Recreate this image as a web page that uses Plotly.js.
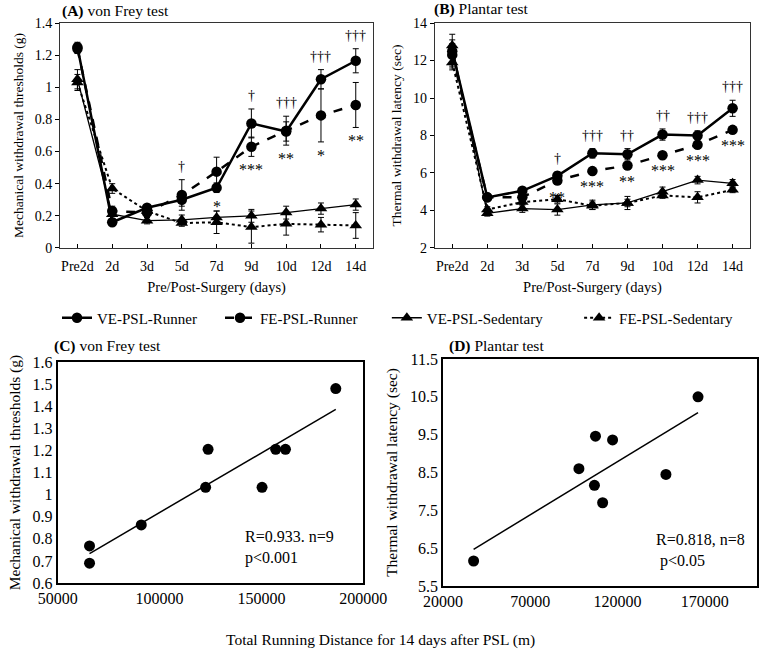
<!DOCTYPE html>
<html>
<head>
<meta charset="utf-8">
<script src="https://cdn.plot.ly/plotly-3.0.1.min.js"></script>
<style>
  body { margin: 0; background: #fff; }
  #plot { width: 760px; height: 650px; }
</style>
</head>
<body>
<div id="plot"></div>
<script>
// time points
const days = ['Pre2d', '2d', '3d', '5d', '7d', '9d', '10d', '12d', '14d'];

// (A) von Frey test, mean and error
const veRunA = [1.25, 0.16, 0.25, 0.30, 0.375, 0.775, 0.725, 1.05, 1.165];
const veRunAErr = [0.03, 0.02, 0.02, 0.04, 0.03, 0.09, 0.06, 0.06, 0.075];
const feRunA = [1.24, 0.23, 0.22, 0.33, 0.475, 0.63, 0.73, 0.825, 0.89];
const feRunAErr = [0.03, 0.03, 0.03, 0.095, 0.09, 0.06, 0.09, 0.165, 0.14];
const veSedA = [1.05, 0.21, 0.17, 0.175, 0.19, 0.20, 0.22, 0.245, 0.27];
const veSedAErr = [0.06, 0.03, 0.02, 0.03, 0.04, 0.04, 0.04, 0.035, 0.035];
const feSedA = [1.03, 0.37, 0.23, 0.155, 0.16, 0.13, 0.15, 0.145, 0.14];
const feSedAErr = [0.05, 0.03, 0.03, 0.02, 0.07, 0.10, 0.07, 0.045, 0.08];
const daggerA = ['', '', '', '†', '', '†', '†††', '†††', '†††'];
const starA = ['', '', '', '', '*', '***', '**', '*', '**'];

// (B) Plantar test, mean and error
const veRunB = [12.5, 4.7, 5.05, 5.85, 7.05, 7.0, 8.05, 8.0, 9.45];
const veRunBErr = [0.9, 0.15, 0.1, 0.2, 0.25, 0.3, 0.3, 0.25, 0.43];
const feRunB = [12.3, 4.7, 4.7, 5.6, 6.1, 6.4, 6.95, 7.5, 8.3];
const feRunBErr = [0.6, 0.1, 0.1, 0.2, 0.1, 0.15, 0.1, 0.1, 0.1];
const veSedB = [12.8, 3.85, 4.1, 4.05, 4.3, 4.4, 5.0, 5.62, 5.45];
const veSedBErr = [0.3, 0.15, 0.2, 0.3, 0.25, 0.35, 0.25, 0.2, 0.2];
const feSedB = [11.9, 4.05, 4.45, 4.6, 4.25, 4.4, 4.8, 4.7, 5.1];
const feSedBErr = [0.4, 0.15, 0.15, 0.2, 0.2, 0.2, 0.15, 0.3, 0.15];
const daggerB = ['', '', '', '†', '†††', '††', '††', '†††', '†††'];
const starB = ['', '', '', '**', '***', '**', '***', '***', '***'];

// (C) distance vs von Frey threshold
const distC = [65600, 65600, 91000, 122600, 123800, 150300, 157000, 161800, 186500];
const threshC = [0.768, 0.69, 0.863, 1.033, 1.205, 1.033, 1.205, 1.205, 1.48];

// (D) distance vs plantar latency
const distD = [37500, 97900, 106800, 107400, 111500, 117200, 147800, 166200];
const latencyD = [6.16, 8.6, 8.16, 9.46, 7.7, 9.36, 8.45, 10.5];

const serif = 'Liberation Serif, Times New Roman, serif';

function groupTraces(xa, ya, veRun, veRunErr, feRun, feRunErr, veSed, veSedErr, feSed, feSedErr, legend) {
    const err = e => ({ type: 'data', array: e, color: '#000', thickness: 1, width: 3 });
    return [
        { x: days, y: veRun, error_y: err(veRunErr), name: 'VE-PSL-Runner', xaxis: xa, yaxis: ya,
          mode: 'lines+markers', line: { color: '#000', width: 2.5 }, legend: 'legend',
          marker: { symbol: 'circle', size: 10.5, color: '#000' }, showlegend: legend },
        { x: days, y: feRun, error_y: err(feRunErr), name: 'FE-PSL-Runner', xaxis: xa, yaxis: ya,
          mode: 'lines+markers', line: { color: '#000', width: 2.5, dash: 'dash' }, legend: 'legend2',
          marker: { symbol: 'circle', size: 10.5, color: '#000' }, showlegend: legend },
        { x: days, y: veSed, error_y: err(veSedErr), name: 'VE-PSL-Sedentary', xaxis: xa, yaxis: ya,
          mode: 'lines+markers', line: { color: '#000', width: 1.3 }, legend: 'legend3',
          marker: { symbol: 'triangle-up', size: 11, color: '#000' }, showlegend: legend },
        { x: days, y: feSed, error_y: err(feSedErr), name: 'FE-PSL-Sedentary', xaxis: xa, yaxis: ya,
          mode: 'lines+markers', line: { color: '#000', width: 2, dash: 'dot' }, legend: 'legend4',
          marker: { symbol: 'triangle-up', size: 11, color: '#000' }, showlegend: legend }
    ];
}

// significance marks sit above / below the runner error bars
function sigNotes(xref, yref, daggers, stars, a, aErr, b, bErr) {
    const notes = [];
    days.forEach((d, i) => {
        const top = Math.max(a[i] + aErr[i], b[i] + bErr[i]);
        const bottom = Math.min(a[i] - aErr[i], b[i] - bErr[i]);
        if (daggers[i]) {
            notes.push({ xref: xref, yref: yref, x: i, y: top, text: daggers[i], showarrow: false,
                yanchor: 'bottom', yshift: 4, font: { family: serif, size: 14, color: '#000' } });
        }
        if (stars[i]) {
            notes.push({ xref: xref, yref: yref, x: i, y: bottom, text: stars[i], showarrow: false,
                yanchor: 'top', yshift: -3, font: { family: serif, size: 16, color: '#000' } });
        }
    });
    return notes;
}

function fitLine(xs, ys) {
    const n = xs.length;
    const mx = xs.reduce((s, v) => s + v, 0) / n;
    const my = ys.reduce((s, v) => s + v, 0) / n;
    let sxy = 0, sxx = 0;
    for (let i = 0; i < n; i++) {
        sxy += (xs[i] - mx) * (ys[i] - my);
        sxx += (xs[i] - mx) * (xs[i] - mx);
    }
    const slope = sxy / sxx;
    const x0 = Math.min(...xs), x1 = Math.max(...xs);
    return { x: [x0, x1], y: [my + slope * (x0 - mx), my + slope * (x1 - mx)] };
}

const lineC = fitLine(distC, threshC);
const lineD = fitLine(distD, latencyD);

const traces = [
    ...groupTraces('x', 'y', veRunA, veRunAErr, feRunA, feRunAErr, veSedA, veSedAErr, feSedA, feSedAErr, true),
    ...groupTraces('x2', 'y2', veRunB, veRunBErr, feRunB, feRunBErr, veSedB, veSedBErr, feSedB, feSedBErr, false),
    { x: lineC.x, y: lineC.y, xaxis: 'x3', yaxis: 'y3', mode: 'lines', line: { color: '#000', width: 1.5 }, showlegend: false },
    { x: distC, y: threshC, xaxis: 'x3', yaxis: 'y3', mode: 'markers', marker: { size: 11, color: '#000' }, showlegend: false },
    { x: lineD.x, y: lineD.y, xaxis: 'x4', yaxis: 'y4', mode: 'lines', line: { color: '#000', width: 1.5 }, showlegend: false },
    { x: distD, y: latencyD, xaxis: 'x4', yaxis: 'y4', mode: 'markers', marker: { size: 11, color: '#000' }, showlegend: false }
];

const tickFont = { family: serif, size: 14, color: '#000' };
const titleFont = { family: serif, size: 14.5, color: '#000' };
const bigTick = { family: serif, size: 16, color: '#000' };

function catAxis(domain, anchor) {
    return { domain: domain, anchor: anchor, type: 'category', range: [-0.5, 8.5],
        showline: true, mirror: true, linecolor: '#333', linewidth: 1,
        ticks: 'inside', ticklen: 4, tickcolor: '#000', showgrid: false, zeroline: false,
        ticklabelstandoff: 5,
        tickfont: tickFont, title: { text: 'Pre/Post-Surgery (days)', font: titleFont, standoff: 9 } };
}

function valAxis(domain, anchor, range, dtick, title) {
    return { domain: domain, anchor: anchor, range: range, dtick: dtick,
        showline: true, mirror: true, linecolor: '#333', linewidth: 1,
        ticks: 'outside', ticklen: 4, tickcolor: '#000', showgrid: false, zeroline: false,
        tickfont: tickFont, title: { text: title, font: { family: serif, size: 13.5, color: '#000' }, standoff: 8 } };
}

function scatterAxis(domain, anchor, range, tick0, dtick, format, title) {
    const ax = { domain: domain, anchor: anchor, range: range, tick0: tick0, dtick: dtick,
        showline: true, mirror: true, linecolor: '#000', linewidth: 2,
        ticks: '', showgrid: false, zeroline: false, tickformat: format,
        tickfont: bigTick };
    if (title) ax.title = { text: title, font: { family: serif, size: 15.5, color: '#000' }, standoff: 8 };
    return ax;
}

function panelTitle(x, y, letter, text) {
    return { xref: 'paper', yref: 'paper', x: x, y: y, xanchor: 'left', yanchor: 'middle',
        text: '<b>(' + letter + ')</b> ' + text, showarrow: false,
        font: { family: serif, size: 15.5, color: '#000' } };
}

function legendAt(x) {
    return { orientation: 'h', x: x, y: 1 - 318 / 650, xanchor: 'left', yanchor: 'middle',
        font: { family: serif, size: 15, color: '#000' }, bgcolor: 'rgba(0,0,0,0)' };
}

const annotations = [
    panelTitle(0.079, 1 - 11 / 650, 'A', 'von Frey test'),
    panelTitle(0.568, 1 - 9 / 650, 'B', 'Plantar test'),
    panelTitle(0.068, 1 - 346 / 650, 'C', 'von Frey test'),
    panelTitle(0.588, 1 - 346 / 650, 'D', 'Plantar test'),
    ...sigNotes('x', 'y', daggerA, starA, veRunA, veRunAErr, feRunA, feRunAErr),
    ...sigNotes('x2', 'y2', daggerB, starB, veRunB, veRunBErr, feRunB, feRunBErr),
    { xref: 'x3', yref: 'y3', x: 141000, y: 0.86, xanchor: 'left', yanchor: 'top', align: 'left',
      text: 'R=0.933. n=9<br>p&lt;0.001', showarrow: false, font: { family: serif, size: 16, color: '#000' } },
    { xref: 'x4', yref: 'y4', x: 141000, y: 7.0, xanchor: 'left', yanchor: 'top', align: 'left',
      text: 'R=0.818, n=8<br> p&lt;0.05', showarrow: false, font: { family: serif, size: 16, color: '#000' } },
    { xref: 'paper', yref: 'paper', x: 0.5, y: 1 - 640 / 650, xanchor: 'center', yanchor: 'middle',
      text: 'Total Running Distance for 14 days after PSL (m)', showarrow: false,
      font: { family: serif, size: 15.5, color: '#000' } }
];

const layout = {
    width: 760, height: 650,
    margin: { l: 0, r: 0, t: 0, b: 0 },
    paper_bgcolor: '#fff', plot_bgcolor: '#fff',
    font: { family: serif, color: '#000' },
    showlegend: true,
    legend: legendAt(0.075),
    legend2: legendAt(0.2895),
    legend3: legendAt(0.509),
    legend4: legendAt(0.762),
    xaxis: catAxis([0.079, 0.491], 'y'),
    yaxis: valAxis([0.6185, 0.9646], 'x', [0, 1.4], 0.2, 'Mechanical withdrawal thresholds (g)'),
    xaxis2: catAxis([0.572, 0.987], 'y2'),
    yaxis2: valAxis([0.6185, 0.9646], 'x2', [2, 14], 2, 'Thermal withdrawal latency (sec)'),
    xaxis3: scatterAxis([0.076, 0.478], 'y3', [50000, 200000], 50000, 50000, 'd', ''),
    yaxis3: scatterAxis([0.103, 0.443], 'x3', [0.6, 1.6], 0.6, 0.1, '', 'Mechanical withdrawal thresholds (g)'),
    xaxis4: scatterAxis([0.583, 0.996], 'y4', [20000, 200000], 20000, 50000, 'd', ''),
    yaxis4: scatterAxis([0.0985, 0.4477], 'x4', [5.5, 11.5], 5.5, 1, '.1f', 'Thermal withdrawal latency (sec)'),
    annotations: annotations
};

Plotly.newPlot('plot', traces, layout, { displayModeBar: false, staticPlot: true });
</script>
</body>
</html>
